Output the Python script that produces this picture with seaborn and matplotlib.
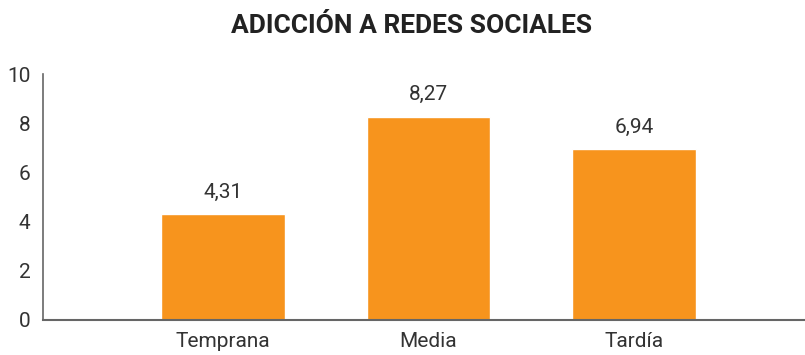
import matplotlib
matplotlib.use("Agg")
import matplotlib.pyplot as plt
import seaborn as sns
import pandas as pd

categories = ["Temprana", "Media", "Tardía"]
values = [4.31, 8.27, 6.94]
value_labels = ["4,31", "8,27", "6,94"]
yticks = [0, 2, 4, 6, 8, 10]

sns.set_style("white")
plt.rcParams["font.family"] = ["Roboto", "DejaVu Sans"]

df = pd.DataFrame({"etapa": categories, "valor": values})

fig = plt.figure(figsize=(8.05, 3.55), dpi=100)
ax = fig.add_axes([0.0534, 0.0986, 0.9466, 0.6929])
sns.barplot(data=df, x="etapa", y="valor", color="#F7941D", saturation=1,
            width=0.6, ax=ax, order=categories)

for i, (v, lab) in enumerate(zip(values, value_labels)):
    ax.annotate(lab, (i, v), xytext=(0, 9), textcoords="offset points",
                ha="center", va="bottom", fontsize=15, color="#333333")

ax.set_xlim(-0.876, 2.832)
ax.set_ylim(0, 10)
ax.set_yticks(yticks)
ax.set_yticklabels([str(t) for t in yticks])
ax.set_xlabel("")
ax.set_ylabel("")
ax.tick_params(axis="both", length=0, labelsize=15, colors="#333333")
ax.tick_params(axis="x", pad=9)
ax.tick_params(axis="y", pad=9)
for s in ["top", "right"]:
    ax.spines[s].set_visible(False)
ax.spines["left"].set_color("#666666")
ax.spines["bottom"].set_color("#666666")
ax.spines["left"].set_linewidth(1.2)
ax.spines["bottom"].set_linewidth(1.5)

fig.text(0.511, 0.928, "ADICCIÓN A REDES SOCIALES", ha="center", va="center",
         fontsize=19, fontweight="bold", color="#222222")

fig.savefig("out.png", dpi=100)
